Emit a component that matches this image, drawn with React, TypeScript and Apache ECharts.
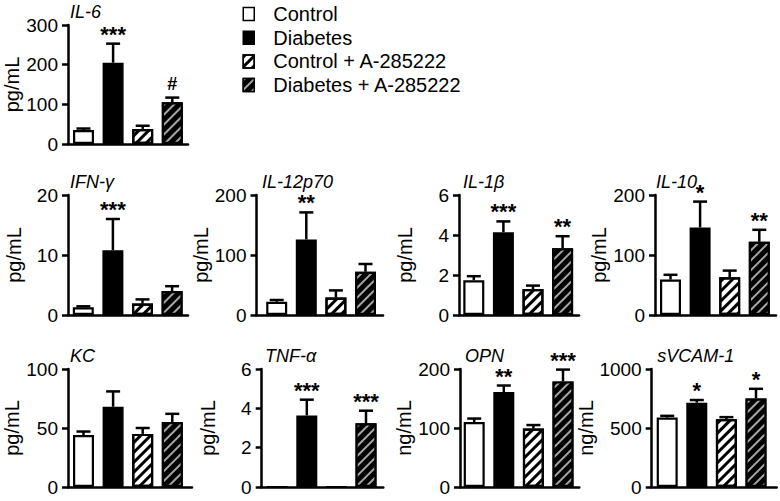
import React, { useEffect, useRef } from 'react';
import * as echarts from 'echarts';

const FONT = '"Liberation Sans", Arial, Helvetica, sans-serif';

// ---- data ----
const groups = ['Control', 'Diabetes', 'Control + A-285222', 'Diabetes + A-285222'];
const panelNames = ['IL-6', 'IFN-γ', 'IL-12p70', 'IL-1β', 'IL-10', 'KC', 'TNF-α', 'OPN', 'sVCAM-1'];
const units = ['pg/mL', 'pg/mL', 'pg/mL', 'pg/mL', 'pg/mL', 'pg/mL', 'pg/mL', 'ng/mL', 'ng/mL'];
const yMax = [300, 20, 200, 6, 200, 100, 6, 200, 1000];
const yStep = [100, 10, 100, 2, 100, 50, 2, 100, 500];

const il6Mean = [35, 205, 38, 105];
const il6Sem = [4, 48, 8, 12];
const il6Sig = ['', '***', '', '#'];

const ifnMean = [1.3, 10.8, 1.9, 4.0];
const ifnSem = [0.15, 5.2, 0.7, 0.8];
const ifnSig = ['', '***', '', ''];

const il12Mean = [22, 126, 29, 72];
const il12Sem = [3, 45, 12, 13];
const il12Sig = ['', '**', '', ''];

const il1bMean = [1.74, 4.14, 1.3, 3.34];
const il1bSem = [0.2, 0.54, 0.17, 0.6];
const il1bSig = ['', '***', '', '**'];

const il10Mean = [59, 146, 63, 122];
const il10Sem = [8, 43, 11, 20];
const il10Sig = ['', '*', '', '**'];

const kcMean = [44, 68, 45, 55];
const kcSem = [3, 13, 5, 7];
const kcSig = ['', '', '', ''];

const tnfMean = [0, 3.64, 0, 3.24];
const tnfSem = [0, 0.8, 0, 0.64];
const tnfSig = ['', '***', '', '***'];

const opnMean = [110, 161, 99, 179];
const opnSem = [6, 11, 6, 20];
const opnSig = ['', '**', '', '***'];

const svcamMean = [588, 715, 575, 750];
const svcamSem = [15, 22, 17, 82];
const svcamSig = ['', '*', '', '*'];

const means = [il6Mean, ifnMean, il12Mean, il1bMean, il10Mean, kcMean, tnfMean, opnMean, svcamMean];
const sems = [il6Sem, ifnSem, il12Sem, il1bSem, il10Sem, kcSem, tnfSem, opnSem, svcamSem];
const sigs = [il6Sig, ifnSig, il12Sig, il1bSig, il10Sig, kcSig, tnfSig, opnSig, svcamSig];

// ---- layout (pixels) ----
const SP = 29.6; // spacing between bar centres
const layout = [
  { left: 68, width: 120, top: 25, height: 119, off: 15.5, tdx: 2 },
  { left: 68, width: 120, top: 195, height: 120, off: 15.3, tdx: 2 },
  { left: 256.5, width: 126.5, top: 195, height: 120, off: 20.2, tdx: 5.5 },
  { left: 459, width: 120, top: 195, height: 120, off: 14.8, tdx: 4 },
  { left: 655, width: 121, top: 195, height: 120, off: 15.5, tdx: 1 },
  { left: 68, width: 124, top: 369, height: 118, off: 15.5, tdx: 2 },
  { left: 261.7, width: 121.6, top: 369, height: 118, off: 15.5, tdx: 3.3 },
  { left: 460, width: 119.3, top: 369, height: 118, off: 14.2, tdx: 5 },
  { left: 651.7, width: 125, top: 369, height: 118, off: 15.5, tdx: 5.6 },
];

const stripeLight = {
  symbol: 'rect',
  symbolSize: 1,
  dashArrayX: [1, 0],
  dashArrayY: [3, 4],
  rotation: -Math.PI / 4,
  color: '#000',
};
const stripeDark = {
  symbol: 'rect',
  symbolSize: 1,
  dashArrayX: [1, 0],
  dashArrayY: [2, 5],
  rotation: -Math.PI / 4,
  color: '#a6a6a6',
};
const groupStyles: any[] = [
  { color: '#fff' },
  { color: '#000' },
  { color: '#fff', decal: stripeLight },
  { color: '#000', decal: stripeDark },
];

function buildOption() {
  const grid: any[] = [];
  const xAxis: any[] = [];
  const yAxis: any[] = [];
  const series: any[] = [];
  const graphic: any[] = [];

  panelNames.forEach((name, i) => {
    const l = layout[i];
    const xmin = 1 - l.off / SP;
    grid.push({ left: l.left, top: l.top, width: l.width, height: l.height });
    xAxis.push({
      type: 'value',
      gridIndex: i,
      min: xmin,
      max: xmin + l.width / SP,
      axisLine: { show: true, onZero: false, lineStyle: { color: '#000', width: 2.5 } },
      axisTick: { show: false },
      axisLabel: { show: false },
      splitLine: { show: false },
    });
    yAxis.push({
      type: 'value',
      gridIndex: i,
      min: 0,
      max: yMax[i],
      interval: yStep[i],
      axisLine: { show: true, lineStyle: { color: '#000', width: 2.5 } },
      axisTick: { show: true, length: 6, lineStyle: { color: '#000', width: 2.5 } },
      axisLabel: {
        color: '#000',
        fontSize: 19,
        fontFamily: FONT,
        margin: 10,
        formatter: (v: number) => String(v),
      },
      splitLine: { show: false },
      name: units[i],
      nameLocation: 'middle',
      nameGap: 44,
      nameTextStyle: { color: '#000', fontSize: 20, fontFamily: FONT },
    });
    groups.forEach((g, k) => {
      series.push({
        type: 'bar',
        name: g,
        xAxisIndex: i,
        yAxisIndex: i,
        barWidth: 21,
        barGap: '-100%',
        data: [[k + 1, means[i][k]]],
        itemStyle: { ...groupStyles[k], borderColor: '#000', borderWidth: 2.2 },
      });
    });
    const sigList = sigs[i];
    series.push({
      type: 'custom',
      xAxisIndex: i,
      yAxisIndex: i,
      z: 10,
      silent: true,
      data: means[i].map((m, k) => [k + 1, m, sems[i][k]]),
      renderItem: (params: any, api: any) => {
        const x = api.value(0);
        const m = api.value(1);
        const s = api.value(2);
        const p0 = api.coord([x, m]);
        const p1 = api.coord([x, m + s]);
        const children: any[] = [];
        if (s > 0) {
          children.push({
            type: 'line',
            shape: { x1: p0[0], y1: p0[1], x2: p0[0], y2: p1[1] },
            style: { stroke: '#000', lineWidth: 2.5 },
          });
          children.push({
            type: 'line',
            shape: { x1: p0[0] - 7, y1: p1[1], x2: p0[0] + 7, y2: p1[1] },
            style: { stroke: '#000', lineWidth: 2.5 },
          });
        }
        const sig = sigList[params.dataIndex];
        if (sig) {
          const isHash = sig === '#';
          children.push({
            type: 'text',
            x: p0[0],
            y: p1[1] + (isHash ? -5 : -9.5),
            style: isHash
              ? {
                  text: sig,
                  fontSize: 18,
                  fontWeight: 'bold',
                  fontFamily: FONT,
                  fill: '#000',
                  align: 'center',
                  verticalAlign: 'bottom',
                }
              : {
                  text: sig,
                  fontSize: 22,
                  lineHeight: 8,
                  fontWeight: 'bold',
                  fontFamily: FONT,
                  fill: '#000',
                  align: 'center',
                  verticalAlign: 'middle',
                },
          });
        }
        return { type: 'group', children };
      },
    });
    graphic.push({
      type: 'text',
      x: l.left + l.tdx,
      y: l.top - 13,
      style: {
        text: name,
        fontSize: 18,
        lineHeight: 12,
        fontStyle: 'italic',
        fontFamily: FONT,
        fill: '#000',
        align: 'left',
        verticalAlign: 'middle',
      },
    });
  });

  return {
    animation: false,
    backgroundColor: '#fff',
    legend: {
      orient: 'vertical',
      left: 242.5,
      top: 4,
      padding: 0,
      itemWidth: 11,
      itemHeight: 13,
      itemGap: 3.7,
      icon: 'rect',
      selectedMode: false,
      data: groups,
      itemStyle: { borderColor: '#000', borderWidth: 1.5 },
      textStyle: { color: '#000', fontSize: 20, fontFamily: FONT, padding: [0, 0, 0, 14] },
    },
    grid,
    xAxis,
    yAxis,
    series,
    graphic,
  };
}

export default function App() {
  const ref = useRef<HTMLDivElement>(null);
  useEffect(() => {
    document.body.style.margin = '0';
    const chart = echarts.init(ref.current!, null, { renderer: 'svg' });
    chart.setOption(buildOption() as any);
    return () => chart.dispose();
  }, []);
  return (
    <div
      ref={ref}
      style={{ position: 'absolute', left: 0, top: 0, width: 780, height: 501 }}
    />
  );
}
